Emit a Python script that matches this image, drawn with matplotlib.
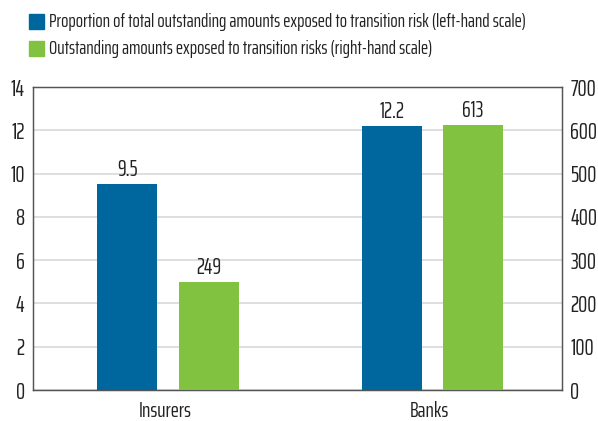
import numpy as np
import matplotlib
matplotlib.use("Agg")
from matplotlib import pyplot as plt
from matplotlib.patches import Rectangle

categories = ["Insurers", "Banks"]
share_pct = [9.5, 12.2]
amounts = [249, 613]
share_label = ["9.5", "12.2"]
amount_label = ["249", "613"]
legend_labels = ["Proportion of total outstanding amounts exposed to transition risk (left-hand scale)",
                 "Outstanding amounts exposed to transition risks (right-hand scale)"]

blue = "#00669E"
green = "#82C241"
txt_col = "#222222"
# condensed face, close to the original's Futura Condensed
plt.rcParams['font.family'] = ['Saira ExtraCondensed', 'DejaVu Sans']

fig = plt.figure(figsize=(5.98, 4.21), dpi=100)
ax = fig.add_axes([0.0552, 0.0736, 0.8846, 0.7197])
ax2 = ax.twinx()

x = np.arange(len(categories))
w = 0.227
off_l = -0.143
off_r = 0.164
ax.bar(x + off_l, share_pct, w, color=blue, zorder=3)
ax2.bar(x + off_r, amounts, w, color=green, zorder=3)

for xi, v, s in zip(x, share_pct, share_label):
    ax.annotate(s, (xi + off_l, v), xytext=(0, 3), textcoords='offset points',
                ha='center', va='bottom', fontsize=16, color=txt_col)
for xi, v, s in zip(x, amounts, amount_label):
    ax2.annotate(s, (xi + off_r, v), xytext=(0, 3), textcoords='offset points',
                 ha='center', va='bottom', fontsize=16, color=txt_col)

ax.set_xlim(-0.5, 1.5)
ax.set_ylim(0, 14)
ax.set_yticks(np.arange(0, 15, 2))
ax2.set_ylim(0, 700)
ax2.set_yticks(np.arange(0, 701, 100))
ax.set_xticks(x)
ax.set_xticklabels(categories)
ax.yaxis.grid(True, color='#d9d9d9', linewidth=1.2, zorder=0)
ax.set_axisbelow(True)

for a in (ax, ax2):
    a.tick_params(length=0, labelsize=16.5, colors=txt_col)
    for sp in a.spines.values():
        sp.set_color('#555555')
        sp.set_linewidth(0.9)
ax.tick_params(axis='x', pad=8, labelsize=15.5)
ax.tick_params(axis='y', pad=6)
ax2.tick_params(axis='y', pad=6)

# legend drawn as figure patches + text
for i, (lab, col) in enumerate(zip(legend_labels, [blue, green])):
    yy = 1 - (22 + 27 * i) / 421
    fig.patches.append(Rectangle((29 / 598, yy - 7.5 / 421), 15 / 598, 15 / 421,
                                 transform=fig.transFigure, color=col))
    fig.text(49 / 598, yy, lab, ha='left', va='center', fontsize=13.8, color=txt_col)

fig.savefig("out.png", dpi=100)
